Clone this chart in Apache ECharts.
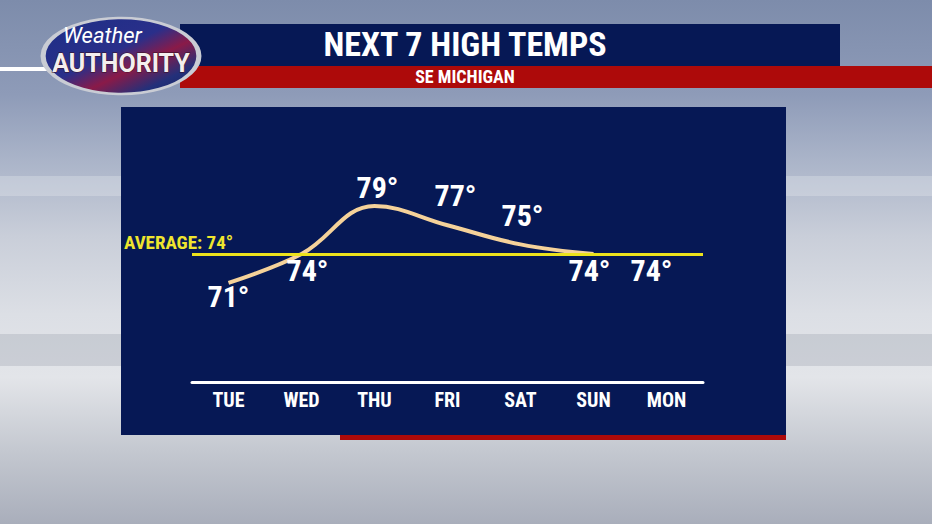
<!DOCTYPE html>
<html><head><meta charset="utf-8">
<script src="https://cdn.jsdelivr.net/npm/echarts@6/dist/echarts.min.js"></script>
<style>
html,body{margin:0;padding:0;width:932px;height:524px;overflow:hidden;}
body{background:linear-gradient(to bottom,#7d8cab 0%,#8e9bb8 18%,#a9b3c8 30%,#c9ced9 45%,#dcdfe5 60%,#e3e5e9 72%,#c4c8d0 86%,#a9aebb 100%);}
#c{width:932px;height:524px;}
</style></head>
<body><div id="c"></div>
<script>
const days = ['TUE','WED','THU','FRI','SAT','SUN','MON'];
const highs = [71, 74, 79, 77, 75, 74, 74];
const curveHighs = [71, 74, 79, 77, 75, 74, null];
const average = 74;
const title = 'NEXT 7 HIGH TEMPS';
const subtitle = 'SE MICHIGAN';

const FONT = '"Roboto Condensed","Roboto",sans-serif';
const NAVY = '#061855';
const RED = '#ad0a0a';
const labelNudge = [[0,14],[6,16],[3,-19],[8,-30],[2,-29],[-4,16],[-15,16]];

const chart = echarts.init(document.getElementById('c'), null, {renderer:'svg'});
chart.setOption({
  backgroundColor: 'transparent',
  animation: false,
  graphic: [
    {type:'rect', shape:{x:0,y:176,width:932,height:20}, style:{fill:'rgba(235,237,242,0.3)'}, z:-10},
    {type:'rect', shape:{x:0,y:334,width:932,height:32}, style:{fill:'rgba(150,155,168,0.3)'}, z:-10},
    {type:'rect', shape:{x:121,y:107,width:665,height:328}, style:{fill:NAVY}, z:-5},
    {type:'rect', shape:{x:340,y:435,width:446,height:5}, style:{fill:RED}, z:-5},
    {type:'rect', shape:{x:180,y:24,width:660,height:42}, style:{fill:NAVY}, z:-5},
    {type:'rect', shape:{x:180,y:66,width:752,height:22}, style:{fill:RED}, z:-5},
    {type:'rect', shape:{x:0,y:67,width:50,height:4}, style:{fill:'#ffffff'}, z:-5},
    {type:'text', x:465, y:27, style:{text:title, fill:'#fff', font:'bold 34px '+FONT, textAlign:'center'}, z:5},
    {type:'text', x:465, y:67, style:{text:subtitle, fill:'#fff', font:'bold 18px '+FONT, textAlign:'center'}, z:5},
    {type:'group', x:121, y:56, z:10, children:[
      {type:'circle', shape:{cx:0,cy:0,r:38}, scaleX:2.05, scaleY:1, style:{fill:{type:'linear',x:0,y:0,x2:1,y2:1,colorStops:[{offset:0,color:'#1c2e86'},{offset:0.45,color:'#2a2f8a'},{offset:0.62,color:'#8a1a48'},{offset:0.8,color:'#23307a'},{offset:1,color:'#16215e'}]}, stroke:'#c9ccd4', lineWidth:2.5}},
      {type:'text', x:-58, y:-32, style:{text:'Weather', fill:'#fff', font:'italic 22px "Roboto",sans-serif'}},
      {type:'text', x:0, y:-5, style:{text:'AUTHORITY', fill:'#f4eeee', stroke:'#3a1020', lineWidth:1, font:'bold 25px "Roboto",sans-serif', textAlign:'center'}}
    ]}
  ],
  grid: {left:192, right:229, top:177.2, bottom:193.2},
  xAxis: {
    type:'category', data:days, boundaryGap:true, offset:51,
    axisLine:{show:true, lineStyle:{color:'#ffffff', width:3}},
    axisTick:{show:false},
    axisLabel:{color:'#fff', fontSize:20, fontWeight:'bold', fontFamily:FONT, margin:8}
  },
  yAxis: {type:'value', min:66, max:82, show:false, splitLine:{show:false}},
  series: [
    {
      type:'line', data:curveHighs, smooth:0.4, symbol:'none', connectNulls:false,
      lineStyle:{color:'#f5d29a', width:4},
      markLine:{
        silent:true, symbol:'none',
        data:[{yAxis:average}],
        lineStyle:{color:'#ece21c', width:3, type:'solid'},
        label:{show:true, position:'insideStartTop', formatter:'AVERAGE: ' + average + '°', color:'#efe52e', fontSize:19, fontWeight:'bold', fontFamily:FONT, offset:[-70,0], distance:2}
      }
    },
    {
      type:'scatter', data:highs.map((v,i)=>({value:v, label:{offset:labelNudge[i]}})), symbolSize:0, z:5,
      itemStyle:{color:'#ffffff', opacity:1},
      label:{show:true, position:'inside', opacity:1, formatter:p=>p.value+'°', color:'#ffffff', fontSize:30, fontWeight:'bold', fontFamily:FONT, textBorderWidth:0, textBorderColor:'transparent'}
    }
  ]
});
</script></body></html>
